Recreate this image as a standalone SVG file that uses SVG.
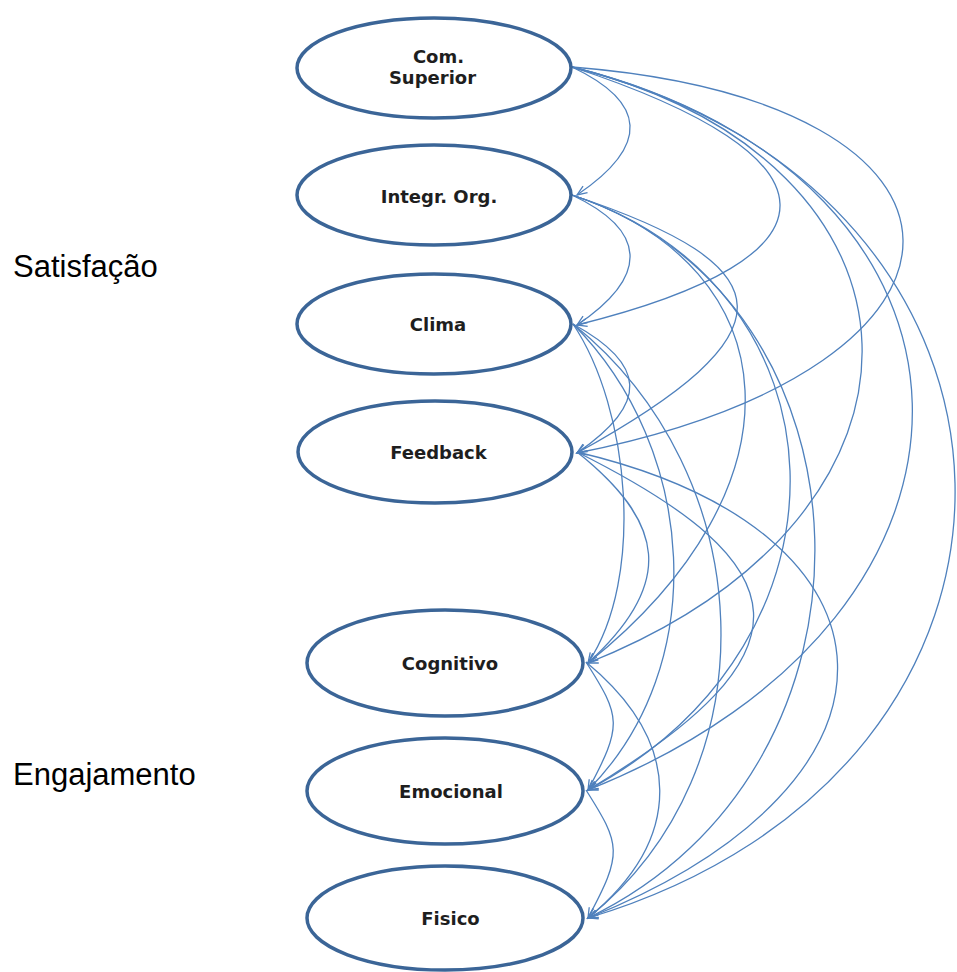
<svg xmlns="http://www.w3.org/2000/svg" width="957" height="972" viewBox="0 0 957 972">
<style>
.node{fill:#ffffff;stroke:#3b6597;stroke-width:3.5}
.lbl{font-family:"DejaVu Sans",Verdana,sans-serif;font-weight:bold;font-size:18px;fill:#1e1e1e;text-anchor:middle}
.side{font-family:"Liberation Sans",Arial,sans-serif;font-size:31px;fill:#000000}
.cov{fill:none;stroke:#4f81bd;stroke-width:1.3;marker-end:url(#arr)}
</style>
<defs>
<marker id="arr" markerUnits="userSpaceOnUse" viewBox="-12 -6 14 12" markerWidth="14" markerHeight="12" refX="0" refY="0" orient="auto">
<path d="M-10,-4 L0,0 L-10,4" fill="none" stroke="#4f81bd" stroke-width="1.3"/>
</marker>
</defs>
<rect width="957" height="972" fill="#ffffff"/>
<text class="side" x="13" y="277">Satisfação</text>
<text class="side" x="13" y="785">Engajamento</text>
<g id="connectors">
<path class="cov" d="M572,67 C646,102 651,145 577,195"/>
<path class="cov" d="M572,67 C846,157 851,257 577,325"/>
<path class="cov" d="M572,67 C1010,102 1015,365 577,453"/>
<path class="cov" d="M572,67 C948,161 964,513 588,663"/>
<path class="cov" d="M572,67 C1015,177 1031,613 588,790"/>
<path class="cov" d="M572,67 C1072,192 1088,768 588,918"/>
<path class="cov" d="M572,195 C646,230 651,275 577,325"/>
<path class="cov" d="M572,195 C789,267 794,333 577,453"/>
<path class="cov" d="M572,195 C792,268 808,487 588,663"/>
<path class="cov" d="M572,195 C852,287 868,640 588,790"/>
<path class="cov" d="M572,195 C885,298 901,768 588,918"/>
<path class="cov" d="M573,324 C646,364 650,403 577,453"/>
<path class="cov" d="M573,324 C630,409 645,578 588,663"/>
<path class="cov" d="M573,324 C697,448 712,666 588,790"/>
<path class="cov" d="M573,324 C760,474 775,768 588,918"/>
<path class="cov" d="M577,452 C665,522 676,583 588,663"/>
<path class="cov" d="M577,452 C805,566 816,653 588,790"/>
<path class="cov" d="M577,452 C917,532 928,782 588,918"/>
<path class="cov" d="M586,662 C621,717 623,725 588,790"/>
<path class="cov" d="M586,662 C683,742 685,838 588,918"/>
<path class="cov" d="M586,790 C621,845 623,853 588,918"/>
</g>
<g id="com-superior">
<ellipse class="node" cx="434" cy="68" rx="137" ry="50"/>
<text class="lbl" x="438.5" y="63">Com.</text>
<text class="lbl" x="432.5" y="84">Superior</text>
</g>
<g id="integr-org">
<ellipse class="node" cx="434" cy="195" rx="137" ry="50"/>
<text class="lbl" x="439" y="203">Integr. Org.</text>
</g>
<g id="clima">
<ellipse class="node" cx="434" cy="324" rx="137" ry="50"/>
<text class="lbl" x="438" y="331">Clima</text>
</g>
<g id="feedback">
<ellipse class="node" cx="435" cy="452" rx="137" ry="51"/>
<text class="lbl" x="438.5" y="459">Feedback</text>
</g>
<g id="cognitivo">
<ellipse class="node" cx="445" cy="663" rx="138" ry="53"/>
<text class="lbl" x="450" y="670">Cognitivo</text>
</g>
<g id="emocional">
<ellipse class="node" cx="445" cy="791" rx="138" ry="53"/>
<text class="lbl" x="451" y="798">Emocional</text>
</g>
<g id="fisico">
<ellipse class="node" cx="445" cy="918" rx="138" ry="52"/>
<text class="lbl" x="450.5" y="925">Fisico</text>
</g>
</svg>
